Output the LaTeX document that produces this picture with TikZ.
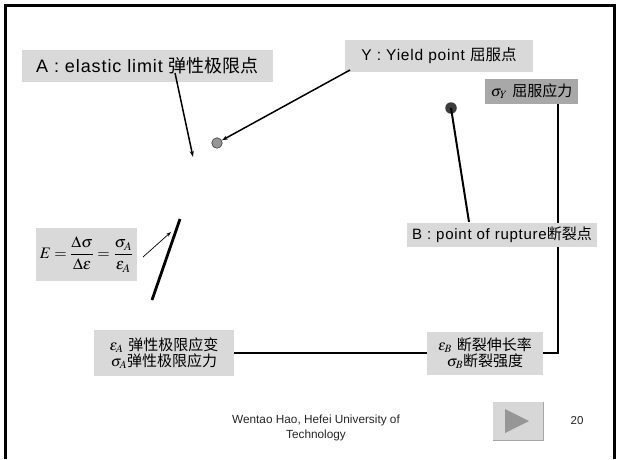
\documentclass[tikz,border=0pt]{standalone}
\usepackage{mathptmx}
\usepackage[no-math]{fontspec}
\setmainfont{Liberation Sans}
\newfontfamily\lblfont{Liberation Sans}[LetterSpace=5]
\newfontfamily\cjk{Noto Sans CJK SC}
\usetikzlibrary{arrows.meta,calc}
\definecolor{boxlight}{RGB}{217,217,217}
\definecolor{boxdark}{RGB}{168,168,168}
\definecolor{dotgray}{RGB}{150,150,150}
\definecolor{dotdark}{RGB}{60,60,60}
\definecolor{btnface}{RGB}{215,215,215}
\definecolor{btntri}{RGB}{150,150,150}
\tikzset{
  lbox/.style={fill=boxlight, inner sep=0pt, align=center, font=\lblfont},
  dbox/.style={fill=boxdark, inner sep=0pt, align=center, font=\lblfont},
  conn/.style={line width=1.5pt, -{Stealth[length=6pt,width=4pt]}},
  thinconn/.style={line width=0.7pt, -{Stealth[length=5pt,width=3.5pt]}},
  wire/.style={line width=1.1pt},
  curve/.style={line width=2.8pt},
  dotstyle/.style={circle, inner sep=0pt},
}
\begin{document}
\begin{tikzpicture}[x=1pt,y=-1pt]
\useasboundingbox (0,0) rectangle (621,459);
% frame
\draw[line width=3pt] (5,459) -- (5,5) -- (614,5) -- (614,459);

% labels
\node[lbox, minimum width=251pt, minimum height=32pt, font=\lblfont\fontsize{18}{20}\selectfont] (boxA) at (147.5,66)
  {A : elastic limit {\cjk 弹性极限点}};
\node[lbox, minimum width=188pt, minimum height=32pt, font=\lblfont\fontsize{15.5}{18}\selectfont] (boxY) at (439,56)
  {Y : Yield point {\cjk 屈服点}};
\node[dbox, minimum width=93pt, minimum height=25pt, font=\lblfont\fontsize{15}{17}\selectfont] (boxSY) at (531.5,91.5)
  {$\sigma_Y$ {\cjk 屈服应力}};
\node[lbox, minimum width=101pt, minimum height=53pt, font=\fontsize{16}{19}\selectfont] (boxE) at (86.5,254.5)
  {$E=\displaystyle\frac{\Delta\sigma}{\Delta\varepsilon}=\frac{\sigma_A}{\varepsilon_A}$};
\node[lbox, minimum width=140pt, minimum height=46pt, font=\lblfont\fontsize{15}{16}\selectfont] (boxEA) at (164,353)
  {$\varepsilon_A$ {\cjk 弹性极限应变}\\$\sigma_A${\cjk 弹性极限应力}};
\node[lbox, minimum width=116pt, minimum height=43pt, font=\lblfont\fontsize{15}{16}\selectfont] (boxEB) at (485,353.5)
  {$\varepsilon_B$ {\cjk 断裂伸长率}\\$\sigma_B${\cjk 断裂强度}};

% sigma_Y wire (behind box B)
\coordinate (syfoot) at (558,104);
\draw[wire] (boxEA.east) -- (boxEA.east -| boxEB.west);
\draw[wire] (boxEA.east -| boxEB.east) -| (syfoot);

\node[lbox, minimum width=190pt, minimum height=24pt, font=\lblfont\fontsize{15}{17}\selectfont] (boxB) at (502,235)
  {B : point of rupture{\cjk 断裂点}};

% points
\node[dotstyle, fill=dotgray, draw=dotdark, line width=0.6pt, minimum size=10.5pt] (dotY) at (217,143) {};
\node[dotstyle, fill=dotdark, minimum size=11.5pt] (dotB) at (451,108) {};

% connectors
\coordinate (aStart) at (175,73);
\coordinate (aEnd) at (193,157);
\draw[conn] (aStart) -- (aEnd);
\coordinate (yStart) at (350,70);
\draw[conn] (yStart) -- (dotY);
\coordinate (bEnd) at (469,222);
\draw[line width=2pt] (dotB.center) -- (bEnd);

% elastic segment
\coordinate (linLow) at (152,300);
\coordinate (linHigh) at (180,219);
\draw[curve] (linLow) -- (linHigh);
\coordinate (eStart) at (143,257);
\coordinate (eEnd) at (171,232);
\draw[thinconn] (eStart) -- (eEnd);

% footer
\node[font=\fontsize{11.8}{14.5}\selectfont, align=center, text=black!85] (foot) at (316,428)
  {Wentao Hao, Hefei University of\\Technology};
\node[font=\fontsize{11.5}{14}\selectfont, text=black!85] (pnum) at (577,421) {20};

% play button
\node[fill=btnface, minimum width=50pt, minimum height=38pt, inner sep=0pt] (play) at (518,421) {};
\draw[gray!70, line width=1.2pt] (play.north east) -- (play.south east) -- (play.south west);
\fill[btntri] ($(play.center)+(-13,-12)$) -- ($(play.center)+(11,0)$) -- ($(play.center)+(-13,12)$) -- cycle;
\end{tikzpicture}
\end{document}
